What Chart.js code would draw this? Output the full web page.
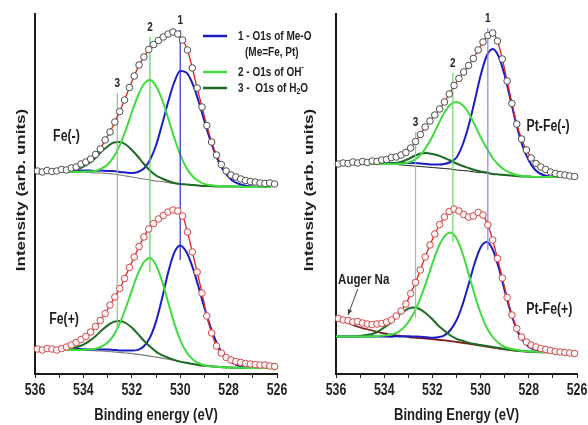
<!DOCTYPE html>
<html>
<head>
<meta charset="utf-8">
<title>O1s XPS spectra</title>
<script src="https://cdn.jsdelivr.net/npm/chart.js@4.4.1/dist/chart.umd.min.js"></script>
<style>
  html, body { margin: 0; padding: 0; background: #fff; }
  #wrap { position: relative; width: 588px; height: 425px; }
  #wrap canvas { position: absolute; left: 0; top: 0; }
</style>
</head>
<body>
<div id="wrap">
  <canvas id="feChart" width="588" height="425"></canvas>
  <canvas id="ptFeChart" width="588" height="425"></canvas>
</div>
<script>
// Binding energy of the measured points (eV), same for all four spectra
const dataEnergy = [535.9, 535.7, 535.5, 535.3, 535.1, 534.9, 534.7, 534.5, 534.3, 534.1,
  533.9, 533.7, 533.5, 533.3, 533.1, 532.9, 532.7, 532.5, 532.3, 532.1,
  531.9, 531.7, 531.5, 531.3, 531.1, 530.9, 530.7, 530.5, 530.3, 530.1,
  529.9, 529.7, 529.5, 529.3, 529.1, 528.9, 528.7, 528.5, 528.3, 528.1,
  527.9, 527.7, 527.5, 527.3, 527.1, 526.9, 526.7, 526.5, 526.3, 526.1];

// Energy grid of the fitted curves (eV)
const fitEnergy = [536.0, 535.75, 535.5, 535.25, 535.0, 534.75, 534.5, 534.25, 534.0, 533.75,
  533.5, 533.25, 533.0, 532.75, 532.5, 532.25, 532.0, 531.75, 531.5, 531.25,
  531.0, 530.75, 530.5, 530.25, 530.0, 529.75, 529.5, 529.25, 529.0, 528.75,
  528.5, 528.25, 528.0, 527.75, 527.5, 527.25, 527.0, 526.75, 526.5, 526.25];

// Fe(-): measured counts, background, and components above background
const feMinusCounts = [203, 202, 203.5, 202.5, 203, 204.5, 204, 206, 207, 210,
  212, 215, 219.5, 225, 234, 242, 252, 262.5, 274, 286.5,
  298, 309, 317, 324.5, 329.5, 333.5, 337, 340, 342, 340,
  334, 324, 306, 286, 267, 248.5, 232, 219, 209.5, 203,
  199, 197, 195, 193.5, 192.5, 192, 191, 190.5, 191, 190];
const feMinusBackground = [null, null, null, null, null, 202, 202, 202, 202, 201.5,
  201, 201, 200.5, 200, 199, 198, 197, 196, 195, 194,
  193, 192.5, 191.5, 190.5, 190, 189.5, 189, 188.5, 188, 188,
  187.5, 187.5, 187.5, 187.5, 187.5, 187, 187, 187, 187, 187];
const feMinusMeO = [null, null, null, null, null, 1, 1, 1.5, 1.5, 2,
  2, 2.5, 2.5, 3, 3, 3.5, 4, 6, 10.5, 20,
  35.5, 57, 80.5, 101, 113, 112, 102, 85, 65, 45.5,
  29.5, 17.5, 9.5, 4.5, 2, 1, 0.5, 0, 0, 0];
const feMinusOH = [null, null, null, null, null, 0, 0, 0, 0.5, 1,
  2, 4.5, 9, 17, 29.5, 46, 64.5, 82, 95, 100,
  95, 82, 64.5, 46, 29.5, 17, 9, 4.5, 2, 1,
  0.5, 0, 0, 0, 0, 0, 0, 0, 0, 0];
const feMinusH2O = [null, null, null, null, null, 0.5, 1.5, 3, 5.5, 9.5,
  15, 21.5, 27, 31.5, 33, 31.5, 27, 21.5, 15, 9.5,
  5.5, 3, 1.5, 0.5, 0, 0, 0, 0, 0, 0,
  0, 0, 0, 0, 0, 0, 0, 0, 0, 0];

// Fe(+)
const fePlusCounts = [25, 24, 25.5, 25, 24, 25.5, 27, 29, 31.5, 34.5,
  37.5, 42, 47.5, 53.5, 60.5, 69, 77, 85.5, 95.5, 106.5,
  117, 127.5, 137, 145, 150.5, 155, 158.5, 162, 164, 163,
  158, 142, 122, 102, 81, 58, 41, 28, 21, 16.5,
  14, 12.5, 11.5, 10.5, 10, 9.5, 9, 9, 8, 7.5];
const fePlusBackground = [null, null, null, null, null, 24, 24, 24, 23.8, 23.6,
  23.3, 23, 22.6, 22.1, 21.6, 21, 20.4, 19.6, 18.8, 17.9,
  16.9, 15.9, 14.8, 13.6, 12.4, 11.2, 10.1, 9.1, 8.3, 7.7,
  7.2, 6.8, 6.5, 6.3, 6.2, 6.1, 6, 6, 6, 6];
const fePlusMeO = [null, null, null, null, null, 0.5, 0.5, 1, 1, 1,
  1.5, 1.5, 2, 2, 2, 2.5, 3, 4.5, 9, 18.5,
  35.5, 59.5, 86.5, 107.5, 116, 111, 97.5, 78.5, 58, 39.5,
  24.5, 14, 7.5, 3.5, 1.5, 0.5, 0, 0, 0, 0];
const fePlusOH = [null, null, null, null, null, 0, 0, 0, 0.5, 1,
  2, 4.5, 9, 16.5, 29, 45, 63, 80.5, 93, 98,
  92, 77, 57, 37.5, 21.5, 11, 5, 2, 0.5, 0,
  0, 0, 0, 0, 0, 0, 0, 0, 0, 0];
const fePlusH2O = [null, null, null, null, null, 0.5, 1.5, 3, 5.5, 9.5,
  14.5, 20.5, 26, 30, 31.5, 30, 26, 20.5, 14.5, 9.5,
  5.5, 3, 1.5, 0.5, 0, 0, 0, 0, 0, 0,
  0, 0, 0, 0, 0, 0, 0, 0, 0, 0];

// Pt-Fe(-)
const ptMinusCounts = [210, 211, 210.5, 212, 211, 212.5, 211.5, 213, 212.5, 214,
  214.5, 216.5, 217, 219, 221.5, 226, 232.5, 239.5, 247, 253,
  259, 265, 272, 280, 288.5, 295.5, 302, 308.5, 315.5, 324,
  332, 338.5, 341, 333, 315, 293, 270.5, 250, 235, 224,
  216, 210.5, 207, 204.5, 202, 200.5, 199.5, 199, 198, 197.5];
const ptMinusBackground = [null, null, null, null, 210, 210, 210, 210, 210, 210,
  209.5, 209, 208.5, 208, 207.5, 207, 206.5, 206, 205.5, 205,
  204, 203.5, 203, 202, 201.5, 201, 200, 199.5, 199, 198.5,
  198, 197.5, 197.5, 197, 197, 197, 197, 197, null, null];
const ptMinusMeO = [null, null, null, null, 0, 0, 0.5, 0.5, 1, 1,
  1.5, 2, 2.5, 3, 3, 3, 3, 3.5, 4.5, 7,
  12.5, 25.5, 45, 70.5, 97, 117, 125, 118, 99.5, 75,
  50, 30, 16, 7.5, 3, 1, 0.5, 0, null, null];
const ptMinusOH = [null, null, null, null, 0, 0, 0, 0, 0, 0,
  0.5, 1.5, 3, 6, 11.5, 20, 31, 44, 56, 64.5,
  68, 65.5, 58, 47.5, 35.5, 25, 16, 9.5, 5, 2.5,
  1, 0.5, 0, 0, 0, 0, 0, 0, null, null];
const ptMinusH2O = [null, null, null, null, 0, 0, 0, 0, 0, 0.5,
  1.5, 3.5, 6.5, 10, 13, 14, 13.5, 12.5, 10.5, 8.5,
  6.5, 4.5, 3, 2, 1, 0.5, 0, 0, 0, 0,
  0, 0, 0, 0, 0, 0, 0, 0, null, null];

// Pt-Fe(+): components sit on ptPlusBase, the drawn background includes the Na Auger rise
const ptPlusCounts = [55.5, 54, 53.5, 52, 52.5, 51, 50, 49.5, 50, 50.5,
  52, 54, 58, 63, 70, 80.5, 91.5, 104, 117, 129,
  140, 149.5, 157, 162.5, 165, 163, 159.5, 157, 158, 161.5,
  159, 149, 134, 115.5, 96, 76.5, 59, 45.5, 37, 32,
  29, 27, 25.5, 24.5, 23.5, 22.5, 22, 21.5, 21, 20.5];
const ptPlusBase = [37.5, 37.5, 37.5, 37.5, 37.5, 37.5, 37.5, 37.5, 37.5, 37.3,
  37.2, 37, 36.8, 36.5, 36.2, 35.8, 35.3, 34.8, 34.2, 33.5,
  32.7, 31.8, 30.9, 30, 29, 28, 27, 26, 25, 24.2,
  23.5, 23, 22.6, 22.3, 22.1, 22, 22, 22, null, null];
const ptPlusBackground = [55, 53, 51, 48.5, 46.5, 45, 43.5, 42, 40.5, 39.5,
  38.6, 37.8, 37, 36.3, 35.8, 35.3, 34.8, 34.2, 33.6, 32.9,
  32.1, 31.2, 30.3, 29.4, 28.4, 27.4, 26.4, 25.5, 24.6, 23.8,
  23.1, 22.6, 22.2, 21.9, 21.7, 21.6, 21.5, 21.5, null, null];
const ptPlusMeO = [0, 0, 0, 0, 0, 0, 0, 0, 0, 0,
  0.5, 0.5, 1, 1, 1, 1, 1, 2, 4.5, 10.5,
  21, 37.5, 58.5, 80.5, 97.5, 104, 97.5, 80.5, 58.5, 37.5,
  21, 10.5, 4.5, 2, 0.5, 0, 0, 0, null, null];
const ptPlusOH = [0, 0, 0, 0, 0, 0, 0, 0.5, 1, 2,
  4, 8, 15, 25.5, 39.5, 56.5, 75, 92, 103.5, 108,
  103, 89, 69.5, 49.5, 32, 18.5, 10, 5, 2, 1,
  0.5, 0, 0, 0, 0, 0, 0, 0, null, null];
const ptPlusH2O = [0, 0, 0, 0, 0.5, 1.5, 2.5, 5, 9, 13.5,
  19.5, 24.5, 28.5, 30, 28.5, 24.5, 19.5, 13.5, 9, 5,
  2.5, 1.5, 0.5, 0, 0, 0, 0, 0, 0, 0,
  0, 0, 0, 0, 0, 0, 0, 0, null, null];

// Peak positions marked by vertical lines (energy, top and bottom intensity)
const feMarkEnergy = [530.0, 531.25, 532.6];
const feMarkTop = [344, 337, 281];
const feMarkBottom = [114, 102, 44];
const ptFeMarkEnergy = [529.7, 531.15, 532.7];
const ptFeMarkTop = [346, 301, 242];
const ptFeMarkBottom = [124, 132, 56];
const markLabels = ['1', '2', '3'];

const energyTicks = [536, 534, 532, 530, 528, 526];

const COLORS = {
  meo: '#1d1dc4',
  oh: '#3fdc3f',
  h2o: '#1e6a24',
  envelope: '#e2231a',
  ink: '#1f1f1f'
};
const FONT = '"Liberation Sans", Arial, sans-serif';
const SQUEEZE = 0.77;

// points helpers
function toPoints(energies, values, base) {
  const pts = [];
  energies.forEach((e, i) => {
    const v = values[i];
    const b = base ? base[i] : 0;
    if (v == null || b == null) return;
    pts.push({ x: e, y: v + b });
  });
  return pts;
}

function curve(points, color, width, order) {
  return {
    data: points,
    borderColor: color,
    borderWidth: width,
    pointRadius: 0,
    fill: false,
    cubicInterpolationMode: 'monotone',
    order: order
  };
}

function spectrum(points, stroke, fillColor) {
  return {
    data: points,
    showLine: true,
    borderColor: COLORS.envelope,
    borderWidth: 1.3,
    tension: 0.3,
    pointRadius: 3.3,
    pointBorderWidth: 1,
    pointBorderColor: stroke,
    pointBackgroundColor: fillColor,
    order: 0,
    clip: false
  };
}

function markLines(energy, top, bottom, colors) {
  return energy.map((e, i) => ({
    data: [{ x: e, y: bottom[i] }, { x: e, y: top[i] }],
    borderColor: colors[i],
    borderWidth: 1.2,
    pointRadius: 0,
    order: 1
  }));
}

// text is drawn slightly condensed, like the original figure lettering
function drawText(ctx, text, x, y, size, align, color) {
  ctx.save();
  ctx.translate(x, y);
  ctx.scale(SQUEEZE, 1);
  ctx.font = `bold ${size}px ${FONT}`;
  ctx.textAlign = align || 'center';
  ctx.textBaseline = 'middle';
  ctx.fillStyle = color || COLORS.ink;
  ctx.fillText(text, 0, 0);
  ctx.restore();
}

function drawVerticalText(ctx, text, x, y, size) {
  ctx.save();
  ctx.translate(x, y);
  ctx.rotate(-Math.PI / 2);
  ctx.scale(1, SQUEEZE);
  ctx.font = `bold ${size}px ${FONT}`;
  ctx.textAlign = 'center';
  ctx.textBaseline = 'middle';
  ctx.fillStyle = COLORS.ink;
  ctx.fillText(text, 0, 0);
  ctx.restore();
}

// text made of pieces: [string, 'sup' | 'sub' | undefined]
function drawRich(ctx, parts, x, y, size) {
  let cx = x;
  parts.forEach(([t, kind]) => {
    const s = kind ? size * 0.7 : size;
    const dy = kind === 'sup' ? -size * 0.35 : kind === 'sub' ? size * 0.3 : 0;
    ctx.save();
    ctx.translate(cx, y + dy);
    ctx.scale(SQUEEZE, 1);
    ctx.font = `bold ${s}px ${FONT}`;
    ctx.textAlign = 'left';
    ctx.textBaseline = 'middle';
    ctx.fillStyle = COLORS.ink;
    ctx.fillText(t, 0, 0);
    cx += ctx.measureText(t).width * SQUEEZE;
    ctx.restore();
  });
}

function drawLegend(ctx) {
  const rows = [
    { color: COLORS.meo, y: 36, parts: [['1 - O1s of Me-O']] },
    { x: 245, y: 52, parts: [['(Me=Fe, Pt)']] },
    { color: COLORS.oh, y: 72, parts: [['2 - O1s of OH'], ['-', 'sup']] },
    { color: COLORS.h2o, y: 88, parts: [['3 -  O1s of H'], ['2', 'sub'], ['O']] }
  ];
  rows.forEach(r => {
    if (r.color) {
      ctx.save();
      ctx.strokeStyle = r.color;
      ctx.lineWidth = 2.5;
      ctx.beginPath();
      ctx.moveTo(203, r.y);
      ctx.lineTo(227, r.y);
      ctx.stroke();
      ctx.restore();
    }
    drawRich(ctx, r.parts, r.x || 238, r.y, 13);
  });
}

function drawAugerArrow(ctx, x, y) {
  const x0 = x.getPixelForValue(535.1), y0 = y.getPixelForValue(85);
  const x1 = x.getPixelForValue(535.5), y1 = y.getPixelForValue(59);
  const ang = Math.atan2(y1 - y0, x1 - x0);
  ctx.save();
  ctx.strokeStyle = '#444';
  ctx.fillStyle = '#444';
  ctx.lineWidth = 1;
  ctx.beginPath();
  ctx.moveTo(x0, y0);
  ctx.lineTo(x1, y1);
  ctx.stroke();
  ctx.beginPath();
  ctx.moveTo(x1, y1);
  ctx.lineTo(x1 - 6 * Math.cos(ang - 0.4), y1 - 6 * Math.sin(ang - 0.4));
  ctx.lineTo(x1 - 6 * Math.cos(ang + 0.4), y1 - 6 * Math.sin(ang + 0.4));
  ctx.closePath();
  ctx.fill();
  ctx.restore();
}

function panelText(cfg) {
  return {
    id: 'panelText',
    afterDraw(chart) {
      const { ctx, chartArea } = chart;
      const x = chart.scales.x, y = chart.scales.y;
      energyTicks.forEach(v => drawText(ctx, String(v), x.getPixelForValue(v), chartArea.bottom + 17, 16));
      drawText(ctx, cfg.xTitle, (chartArea.left + chartArea.right) / 2, 415, 17);
      drawVerticalText(ctx, 'Intensity (arb. units)', cfg.yTitleX, 190, 17);
      cfg.markEnergy.forEach((e, i) => {
        drawText(ctx, markLabels[i], x.getPixelForValue(e), y.getPixelForValue(cfg.markTop[i]) - 10, 13, 'center', '#222');
      });
      cfg.names.forEach(n => drawText(ctx, n.text, x.getPixelForValue(n.x), y.getPixelForValue(n.y), n.size || 16));
      if (cfg.extra) cfg.extra(ctx, x, y);
    }
  };
}

function buildChart(canvasId, datasets, padding, cfg) {
  return new Chart(document.getElementById(canvasId), {
    type: 'line',
    data: { datasets },
    options: {
      responsive: false,
      animation: false,
      events: [],
      layout: { padding },
      plugins: { legend: { display: false }, tooltip: { enabled: false } },
      scales: {
        x: {
          type: 'linear',
          reverse: true,
          min: 526,
          max: 536,
          afterFit: s => { s.height = 51; },
          border: { display: true, color: '#1a1a1a', width: 2 },
          grid: { display: true, drawOnChartArea: false, drawTicks: true, tickLength: 4, color: '#1a1a1a', lineWidth: 1 },
          ticks: { display: false, stepSize: 1, autoSkip: false }
        },
        y: {
          min: 0,
          max: 360,
          afterFit: s => { s.width = 0; },
          border: { display: true, color: '#1a1a1a', width: 2 },
          grid: { display: false },
          ticks: { display: false }
        }
      }
    },
    plugins: [panelText(cfg)]
  });
}

// left panel: Fe(-) above, Fe(+) below
const feDatasets = [
  spectrum(toPoints(dataEnergy, feMinusCounts), '#4d4d4d', '#ffffff'),
  spectrum(toPoints(dataEnergy, fePlusCounts), '#cf4a4e', '#fff5f5'),
  ...markLines(feMarkEnergy, feMarkTop, feMarkBottom, ['#2b2bd0', '#4fd64f', '#93bd93']),
  curve(toPoints(fitEnergy, feMinusOH, feMinusBackground), COLORS.oh, 2, 2),
  curve(toPoints(fitEnergy, fePlusOH, fePlusBackground), COLORS.oh, 2, 2),
  curve(toPoints(fitEnergy, feMinusH2O, feMinusBackground), COLORS.h2o, 2, 3),
  curve(toPoints(fitEnergy, fePlusH2O, fePlusBackground), COLORS.h2o, 2, 3),
  curve(toPoints(fitEnergy, feMinusMeO, feMinusBackground), COLORS.meo, 2, 4),
  curve(toPoints(fitEnergy, fePlusMeO, fePlusBackground), COLORS.meo, 2, 4),
  curve(toPoints(fitEnergy, feMinusBackground), '#7d7d7d', 1.2, 5),
  curve(toPoints(fitEnergy, fePlusBackground), '#7d7d7d', 1.2, 5)
];

buildChart('feChart', feDatasets, { left: 35, right: 311, top: 14, bottom: 0 }, {
  xTitle: 'Binding energy (eV)',
  yTitleX: 21,
  markEnergy: feMarkEnergy,
  markTop: feMarkTop,
  names: [{ text: 'Fe(-)', x: 534.7, y: 237 }, { text: 'Fe(+)', x: 534.8, y: 54 }],
  extra: ctx => drawLegend(ctx)
});

// right panel: Pt-Fe(-) above, Pt-Fe(+) below
const ptFeDatasets = [
  spectrum(toPoints(dataEnergy, ptMinusCounts), '#4d4d4d', '#ffffff'),
  spectrum(toPoints(dataEnergy, ptPlusCounts), '#cf4a4e', '#fff5f5'),
  ...markLines(ptFeMarkEnergy, ptFeMarkTop, ptFeMarkBottom, ['#8585f0', '#6ad86a', '#8ec98e']),
  curve(toPoints(fitEnergy, ptMinusOH, ptMinusBackground), COLORS.oh, 2, 2),
  curve(toPoints(fitEnergy, ptPlusOH, ptPlusBase), COLORS.oh, 2, 2),
  curve(toPoints(fitEnergy, ptMinusH2O, ptMinusBackground), COLORS.h2o, 2, 3),
  curve(toPoints(fitEnergy, ptPlusH2O, ptPlusBase), COLORS.h2o, 2, 3),
  curve(toPoints(fitEnergy, ptMinusMeO, ptMinusBackground), COLORS.meo, 2, 4),
  curve(toPoints(fitEnergy, ptPlusMeO, ptPlusBase), COLORS.meo, 2, 4),
  curve(toPoints(fitEnergy, ptMinusBackground), '#1a1a1a', 1, 5),
  curve(toPoints(fitEnergy, ptPlusBackground), '#7e1b1b', 1.8, 5)
];

buildChart('ptFeChart', ptFeDatasets, { left: 336, right: 11, top: 14, bottom: 0 }, {
  xTitle: 'Binding Energy (eV)',
  yTitleX: 309,
  markEnergy: ptFeMarkEnergy,
  markTop: ptFeMarkTop,
  names: [
    { text: 'Pt-Fe(-)', x: 527.2, y: 247 },
    { text: 'Pt-Fe(+)', x: 527.15, y: 64 },
    { text: 'Auger Na', x: 534.85, y: 94, size: 15 }
  ],
  extra: (ctx, x, y) => drawAugerArrow(ctx, x, y)
});
</script>
</body>
</html>
